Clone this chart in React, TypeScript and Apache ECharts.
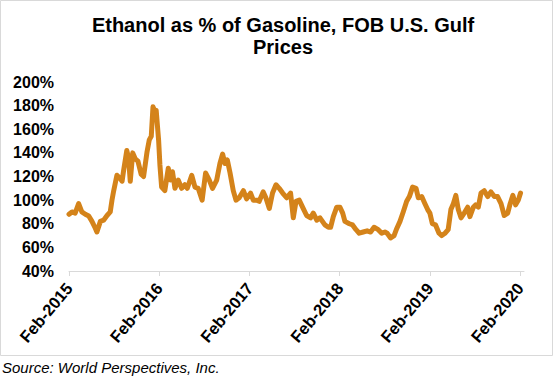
import React, { useEffect, useRef } from "react";
import * as echarts from "echarts";

const titleText = "Ethanol as % of Gasoline, FOB U.S. Gulf\nPrices";
const sourceText = "Source: World Perspectives, Inc.";

const yTicks = [40, 60, 80, 100, 120, 140, 160, 180, 200];
const xTickDates = ["2015-02-01", "2016-02-01", "2017-02-01", "2018-02-01", "2019-02-01", "2020-02-01"];

const dates = [
  "2015-02-01", "2015-02-13", "2015-02-26", "2015-03-12", "2015-03-25", "2015-04-08", "2015-04-22", "2015-05-05",
  "2015-05-19", "2015-05-25", "2015-06-08", "2015-06-21", "2015-07-05", "2015-07-18", "2015-07-25", "2015-08-01",
  "2015-08-14", "2015-08-28", "2015-09-04", "2015-09-10", "2015-09-23", "2015-09-30", "2015-10-07", "2015-10-17",
  "2015-10-27", "2015-11-07", "2015-11-20", "2015-11-30", "2015-12-14", "2015-12-23", "2015-12-31", "2016-01-07",
  "2016-01-14", "2016-01-20", "2016-01-30", "2016-02-04", "2016-02-11", "2016-02-24", "2016-03-09", "2016-03-18",
  "2016-03-26", "2016-04-05", "2016-04-18", "2016-05-02", "2016-05-15", "2016-05-25", "2016-06-12", "2016-06-25",
  "2016-07-08", "2016-07-24", "2016-08-07", "2016-08-22", "2016-09-04", "2016-09-21", "2016-10-04", "2016-10-15",
  "2016-10-24", "2016-11-03", "2016-11-14", "2016-11-27", "2016-12-08", "2016-12-21", "2017-01-07", "2017-01-20",
  "2017-02-05", "2017-02-16", "2017-03-02", "2017-03-12", "2017-03-28", "2017-04-08", "2017-04-22", "2017-05-05",
  "2017-05-19", "2017-06-01", "2017-06-15", "2017-07-01", "2017-07-17", "2017-07-28", "2017-08-08", "2017-08-21",
  "2017-09-06", "2017-09-20", "2017-10-06", "2017-10-17", "2017-10-31", "2017-11-13", "2017-12-03", "2017-12-17",
  "2017-12-26", "2018-01-06", "2018-01-20", "2018-02-02", "2018-02-13", "2018-02-22", "2018-03-12", "2018-03-25",
  "2018-04-08", "2018-04-21", "2018-05-07", "2018-05-23", "2018-06-06", "2018-06-20", "2018-07-07", "2018-07-21",
  "2018-08-03", "2018-08-12", "2018-08-26", "2018-09-09", "2018-09-20", "2018-10-03", "2018-10-16", "2018-10-30",
  "2018-11-10", "2018-11-23", "2018-12-07", "2018-12-16", "2018-12-30", "2019-01-12", "2019-01-23", "2019-02-01",
  "2019-02-11", "2019-02-24", "2019-03-10", "2019-03-21", "2019-04-03", "2019-04-16", "2019-04-27", "2019-05-07",
  "2019-05-17", "2019-05-27", "2019-06-07", "2019-06-20", "2019-07-04", "2019-07-13", "2019-07-27", "2019-08-05",
  "2019-08-16", "2019-08-27", "2019-09-09", "2019-09-23", "2019-10-06", "2019-10-20", "2019-11-02", "2019-11-16",
  "2019-11-29", "2019-12-13", "2019-12-23", "2020-01-03", "2020-01-14", "2020-01-25", "2020-02-03",
];

const ethanolPct = [
  88, 90, 89, 97, 90, 88, 86.5, 82,
  76, 73, 82, 83, 87, 90, 100, 108,
  121, 118, 116, 125, 142, 136, 116, 140,
  135, 133, 122, 120, 141, 151, 154, 179,
  174, 176, 150, 130, 111, 108, 127, 117,
  124, 110, 117, 110, 113, 110, 121, 111,
  110, 100, 123, 117, 110, 117, 131, 139,
  131, 134, 123, 108, 100, 102, 108, 101,
  106, 100, 100, 99, 107, 102, 93, 106,
  113, 110, 106, 102, 106, 85, 99, 100,
  93, 87, 85, 89, 83, 85, 79, 77,
  77, 86, 94, 94, 89, 82, 80, 79,
  75, 72, 73, 74, 73, 77, 75, 72,
  73, 72, 68, 70, 76, 82, 90, 99,
  103, 111, 110, 102, 103, 97, 92, 89,
  80, 79, 72, 70, 72, 75, 92, 97,
  104, 92, 85, 89, 94, 86, 94, 96,
  94, 106, 108, 103, 107, 103, 103, 97,
  87, 89, 97, 104, 96, 100, 106,
];

const axisMin = "2015-02-01";
const axisMax = "2020-02-17";

const FONT = "Liberation Sans, Arial, sans-serif";

const ts = (d: string) => {
  const [y, m, day] = d.split("-").map(Number);
  return Date.UTC(y, m - 1, day);
};

export default function App() {
  const ref = useRef<HTMLDivElement>(null);

  useEffect(() => {
    if (!ref.current) return;
    const chart = echarts.init(ref.current, undefined, { renderer: "svg" });
    const seriesData = dates.map((d, i) => [ts(d), ethanolPct[i]]);
    const tickValues = xTickDates.map(ts);

    chart.setOption({
      animation: false,
      backgroundColor: "#ffffff",
      title: {
        text: titleText,
        left: 283,
        textAlign: "center",
        top: 14,
        padding: 0,
        textStyle: {
          fontFamily: FONT,
          fontSize: 20,
          fontWeight: "bold",
          color: "#000000",
          lineHeight: 22,
        },
      },
      grid: {
        left: 69,
        right: 32,
        top: 82,
        bottom: 111,
        containLabel: false,
      },
      xAxis: {
        type: "value",
        min: ts(axisMin),
        max: ts(axisMax),
        axisLine: { show: true, lineStyle: { color: "#d9d9d9", width: 1 } },
        axisTick: {
          show: true,
          length: 5,
          customValues: tickValues,
          lineStyle: { color: "#d9d9d9", width: 1 },
        },
        axisLabel: {
          customValues: tickValues,
          rotate: 50,
          margin: 14,
          fontFamily: FONT,
          fontSize: 16.5,
          fontWeight: "bold",
          color: "#000000",
          formatter: (val: number) => "Feb-" + new Date(val).getUTCFullYear(),
        },
        splitLine: { show: false },
      },
      yAxis: {
        type: "value",
        min: yTicks[0],
        max: yTicks[yTicks.length - 1],
        interval: 20,
        axisLine: { show: false },
        axisTick: { show: false },
        splitLine: { show: false },
        axisLabel: {
          margin: 15,
          fontFamily: FONT,
          fontSize: 16,
          fontWeight: "bold",
          color: "#000000",
          formatter: "{value}%",
        },
      },
      series: [
        {
          type: "line",
          data: seriesData,
          showSymbol: false,
          symbol: "none",
          lineStyle: { color: "#D4831A", width: 5, join: "round", cap: "round" },
        },
      ],
      graphic: [
        {
          type: "rect",
          shape: { x: 0.5, y: 0.5, width: 552, height: 355 },
          style: { fill: "none", stroke: "#d9d9d9", lineWidth: 1 },
          silent: true,
        },
        {
          type: "text",
          left: 2,
          top: 360,
          style: {
            text: sourceText,
            fontFamily: FONT,
            fontSize: 15,
            fontStyle: "italic",
            fill: "#000000",
          },
        },
      ],
    });

    return () => chart.dispose();
  }, []);

  return (
    <div
      ref={ref}
      style={{ position: "fixed", left: 0, top: 0, width: 556, height: 382, background: "#fff" }}
    />
  );
}
